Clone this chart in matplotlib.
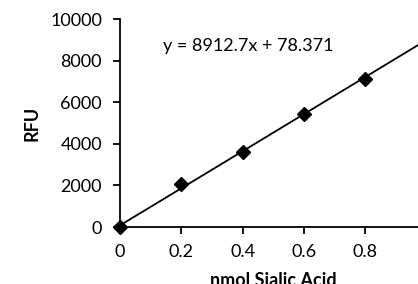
import numpy as np
import matplotlib.pyplot as plt

plt.rcParams["font.family"] = ["Lato", "DejaVu Sans"]

# standard curve data
nmol = [0.0, 0.2, 0.4, 0.6, 0.8]
rfu = [0, 2050, 3620, 5420, 7130]

# linear trendline from the chart
slope = 8912.7
intercept = 78.371
fit_x = [0.0, 1.0]

xticks = [0, 0.2, 0.4, 0.6, 0.8]
xtick_labels = ["0", "0.2", "0.4", "0.6", "0.8"]
yticks = [0, 2000, 4000, 6000, 8000, 10000]

fig = plt.figure(figsize=(4.18, 2.84), dpi=100)
ax = fig.add_axes([120 / 418, 57 / 284, 306.5 / 418, 208 / 284])

fx = np.array(fit_x)
ax.plot(fx, slope * fx + intercept, color="black", linewidth=1.3, zorder=2)
ax.plot(nmol, rfu, linestyle="none", marker="D", markersize=7,
        color="black", zorder=3, clip_on=False)

ax.set_xlim(0, 1.0)
ax.set_ylim(0, 10000)
ax.set_xticks(xticks)
ax.set_xticklabels(xtick_labels)
ax.set_yticks(yticks)

for side in ["top", "right"]:
    ax.spines[side].set_visible(False)
for side in ["left", "bottom"]:
    ax.spines[side].set_linewidth(1.3)

ax.tick_params(axis="both", direction="out", length=5, width=1.3, labelsize=13)
ax.tick_params(axis="y", pad=8)
ax.tick_params(axis="x", pad=7)

ax.set_ylabel("RFU", fontsize=13, fontweight="bold", labelpad=7)
ax.set_xlabel("nmol Sialic Acid", fontsize=13, fontweight="bold", labelpad=9)

ax.text(0.14, 8700, f"y = {slope}x + {intercept}", fontsize=13, va="center")

plt.savefig("out.png", dpi=100)
plt.close()
